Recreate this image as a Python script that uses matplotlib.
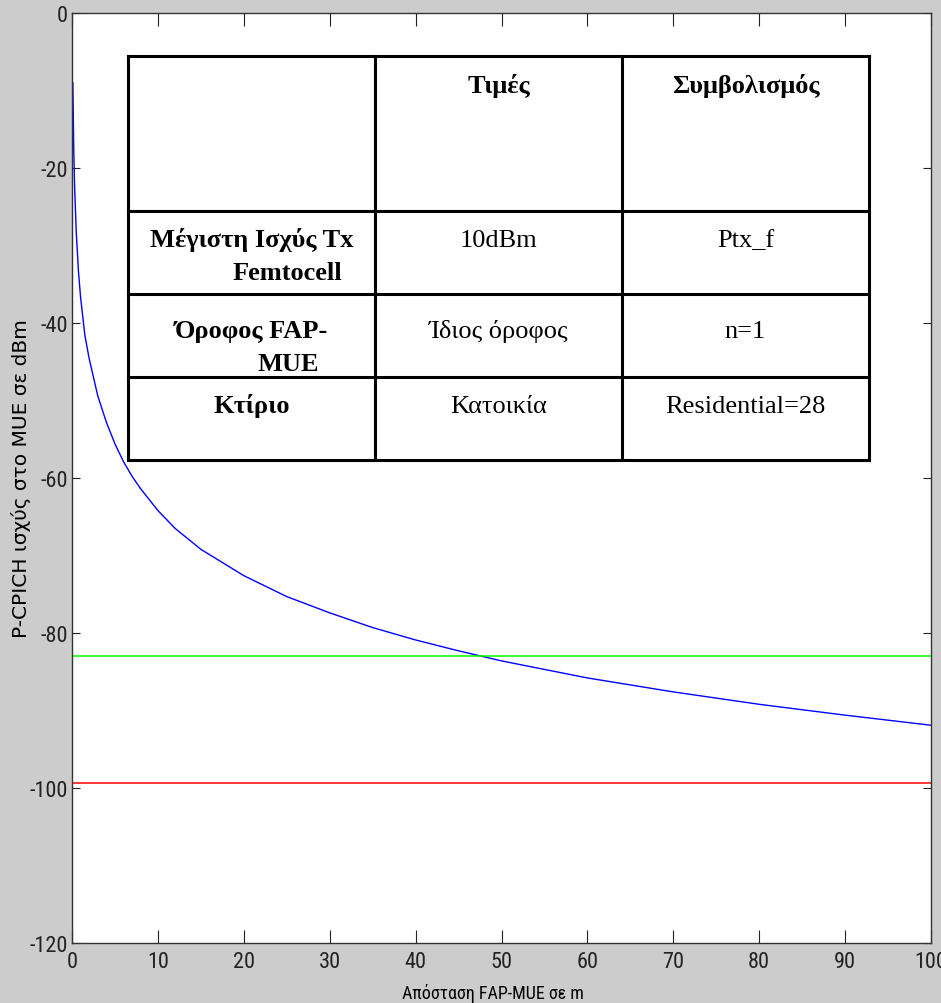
import matplotlib.pyplot as plt
from matplotlib import font_manager

plt.rcParams['axes.unicode_minus'] = False

# απόσταση FAP-MUE (m) και λαμβανόμενη ισχύς P-CPICH στο MUE (dBm)
dist = [0.1, 0.2, 0.3, 0.5, 0.75, 1, 1.5, 2, 3, 4, 5, 6, 7, 8, 10, 12, 15,
        20, 25, 30, 35, 40, 45, 50, 60, 70, 80, 90, 100]
pcpich = [-9.0, -17.4, -22.3, -28.4, -33.3, -36.7, -41.6, -44.6, -49.4,
          -52.8, -55.6, -57.9, -59.8, -61.4, -64.2, -66.5, -69.2, -72.6,
          -75.3, -77.4, -79.3, -80.9, -82.3, -83.6, -85.8, -87.6, -89.2,
          -90.6, -91.9]

# κατώφλια
thr_green = -83
thr_red = -99.4

xticks = list(range(0, 101, 10))
yticks = list(range(-120, 1, 20))

# πίνακας παραμέτρων
tbl_header = ['Τιμές', 'Συμβολισμός']
tbl_names = [['Μέγιστη Ισχύς Tx', 'Femtocell'], ['Όροφος FAP-', 'MUE'], ['Κτίριο']]
tbl_values = ['10dBm', 'Ίδιος όροφος', 'Κατοικία']
tbl_symbols = ['Ptx_f', 'n=1', 'Residential=28']

# στενή γραμματοσειρά για τους άξονες, αν υπάρχει
installed = {f.name for f in font_manager.fontManager.ttflist}
narrow = [f for f in ['Liberation Sans Narrow', 'Roboto Condensed', 'DejaVu Sans Condensed']
          if f in installed] + ['DejaVu Sans']
cond = {f.name for f in font_manager.fontManager.ttflist
        if f.name == 'DejaVu Sans' and f.stretch == 'condensed'}
tick_fs = 16 if len(narrow) > 1 or cond else 12

W, H = 941, 1004
fig = plt.figure(figsize=(W / 100, H / 100), dpi=100, facecolor='#cccccc')

ax = fig.add_axes([72 / W, 1 - 944 / H, 859 / W, 930 / H])
ax.plot(dist, pcpich, color='#0000ff', lw=1.0)
ax.axhline(thr_green, color='#00ff00', lw=1.1)
ax.axhline(thr_red, color='#ff0000', lw=1.1)

ax.set_xlim(0, 100)
ax.set_ylim(-120, 0)
ax.set_xticks(xticks)
ax.set_yticks(yticks)

for lab in ax.get_xticklabels() + ax.get_yticklabels():
    lab.set_family(narrow)
    lab.set_stretch('condensed')
    lab.set_fontsize(tick_fs)
    lab.set_color('#111111')
ax.tick_params(direction='in', top=True, right=True, width=0.8, colors='#222222')
ax.tick_params(axis='x', length=9.5, pad=6)
ax.tick_params(axis='y', length=5.8, pad=3)
for sp in ax.spines.values():
    sp.set_linewidth(1.0)
    sp.set_color('#333333')

ax.set_xlabel('Απόσταση FAP-MUE σε m', family=narrow, stretch='condensed',
              fontsize=13, va='center')
ax.xaxis.set_label_coords(0.49, -0.0527)
ax.set_ylabel('P-CPICH ισχύς στο MUE σε dBm', family='DejaVu Sans', fontsize=14.5,
              va='center')
ax.yaxis.set_label_coords(-0.0594, 0.5)

# πίνακας πάνω στο γράφημα, σε συντεταγμένες pixel
x0, x1, y0, y1 = 128, 869, 57, 461
cols = [x0, 375, 622, x1]
rows = [y0, 212, 295, 378, y1]
tab = fig.add_axes([x0 / W, 1 - y1 / H, (x1 - x0) / W, (y1 - y0) / H])
tab.set_xlim(x0, x1)
tab.set_ylim(y1, y0)
tab.set_facecolor('white')
tab.set_xticks([])
tab.set_yticks([])
for sp in tab.spines.values():
    sp.set_visible(False)
for c in cols:
    tab.plot([c, c], [y0, y1], color='black', lw=2.2, solid_capstyle='projecting',
             clip_on=False)
for r in rows:
    tab.plot([x0, x1], [r, r], color='black', lw=2.2, solid_capstyle='projecting',
             clip_on=False)

serif = 'Liberation Serif'
fs = 19
c1 = (cols[0] + cols[1]) / 2
c2 = (cols[1] + cols[2]) / 2
c3 = (cols[2] + cols[3]) / 2

tab.text(c2, 93, tbl_header[0], family=serif, fontsize=fs, weight='bold',
         ha='center', va='baseline')
tab.text(c3, 93, tbl_header[1], family=serif, fontsize=fs, weight='bold',
         ha='center', va='baseline')

base = [247, 338, 413]
second_x = [287, 288]
for i in range(3):
    names = tbl_names[i]
    tab.text(c1, base[i], names[0], family=serif, fontsize=fs, weight='bold',
             ha='center', va='baseline')
    if len(names) > 1:
        tab.text(second_x[i], base[i] + 33, names[1], family=serif, fontsize=fs,
                 weight='bold', ha='center', va='baseline')
    tab.text(c2, base[i], tbl_values[i], family=serif, fontsize=fs,
             ha='center', va='baseline')
    tab.text(c3, base[i], tbl_symbols[i], family=serif, fontsize=fs,
             ha='center', va='baseline')

fig.savefig('out.png', dpi=100, facecolor=fig.get_facecolor())
